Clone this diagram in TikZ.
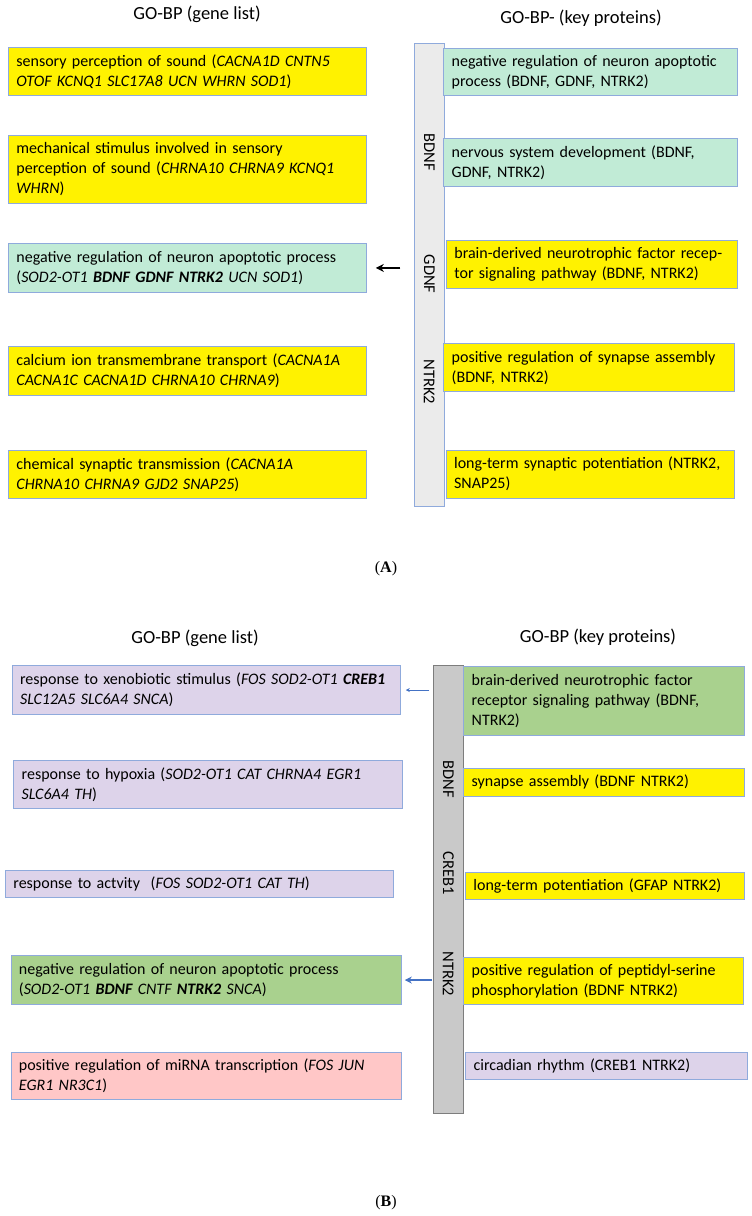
\documentclass[tikz,border=0pt]{standalone}
\usepackage{fontspec}
\setmainfont{Carlito}
\newfontfamily\capfont{Liberation Serif}
\usetikzlibrary{positioning,arrows.meta}

\definecolor{boxline}{RGB}{143,170,220}
\definecolor{barlight}{RGB}{235,235,235}
\definecolor{bardark}{RGB}{201,201,201}
\definecolor{barline}{RGB}{125,125,125}
\definecolor{mint}{RGB}{193,235,214}
\definecolor{lav}{RGB}{221,211,234}
\definecolor{leaf}{RGB}{169,209,142}
\definecolor{rose}{RGB}{255,199,199}
\definecolor{arrowblue}{RGB}{68,114,196}

\newcommand{\boxfont}{\fontsize{16}{20}\selectfont}

\begin{document}
\begin{tikzpicture}[x=1pt, y=-1pt,
    gobox/.style={draw=boxline, line width=0.8pt, anchor=north west, inner xsep=8pt, inner ysep=0pt, align=left, font=\boxfont},
    barbox/.style={line width=0.8pt, anchor=north west, minimum width=30pt, inner sep=0pt},
    barlabel/.style={rotate=-90, font=\fontsize{16.5}{18}\selectfont},
    heading/.style={font=\fontsize{18.5}{22}\selectfont},
    panel/.style={font=\capfont\fontsize{16}{18}\selectfont}]
    \useasboundingbox (0,0) rectangle (752,1216);

    % panel A
    \node[heading] (headAl) at (197,14) {GO-BP (gene list)};
    \node[heading] (headAr) at (581,18) {GO-BP- (key proteins)};

    \node[gobox, fill=yellow, text width=342pt, minimum height=48pt] (lA1) at (8,47)
        {sensory perception of sound (\textit{CACNA1D CNTN5}\\\textit{OTOF KCNQ1 SLC17A8 UCN WHRN SOD1})};
    \node[gobox, fill=yellow, text width=342pt, minimum height=68pt] (lA2) at (8,135)
        {mechanical stimulus involved in sensory\\perception of sound (\textit{CHRNA10 CHRNA9 KCNQ1}\\\textit{WHRN})};
    \node[gobox, fill=mint, text width=342pt, minimum height=49pt] (lA3) at (8,243)
        {negative regulation of neuron apoptotic process\\(\textit{SOD2-OT1 \textbf{BDNF GDNF NTRK2} UCN SOD1})};
    \node[gobox, fill=yellow, text width=342pt, minimum height=49pt] (lA4) at (8,346)
        {calcium ion transmembrane transport (\textit{CACNA1A}\\\textit{CACNA1C CACNA1D CHRNA10 CHRNA9})};
    \node[gobox, fill=yellow, text width=342pt, minimum height=48pt] (lA5) at (8,450)
        {chemical synaptic transmission (\textit{CACNA1A}\\\textit{CHRNA10 CHRNA9 GJD2 SNAP25})};

    \node[barbox, fill=barlight, draw=boxline, minimum height=462.7pt] (barA) at (414.3,43.3) {};
    \node[barlabel] (bdnfA) at (429.3,152) {BDNF};
    \node[barlabel] (gdnfA) at (429.3,274) {GDNF};
    \node[barlabel] (ntrkA) at (429.3,382) {NTRK2};

    \node[gobox, fill=mint, text width=278pt, minimum height=47.3pt] (rA1) at (443.3,47.7)
        {negative regulation of neuron apoptotic\\process (BDNF, GDNF, NTRK2)};
    \node[gobox, fill=mint, text width=278pt, minimum height=47.7pt] (rA2) at (443.3,138.3)
        {nervous system development (BDNF,\\GDNF, NTRK2)};
    \node[gobox, fill=yellow, text width=275.3pt, minimum height=48.3pt] (rA3) at (446,240)
        {brain-derived neurotrophic factor recep-\\tor signaling pathway (BDNF, NTRK2)};
    \node[gobox, fill=yellow, text width=275pt, minimum height=47.7pt] (rA4) at (443.3,343.3)
        {positive regulation of synapse assembly\\(BDNF, NTRK2)};
    \node[gobox, fill=yellow, text width=272.3pt, minimum height=47.7pt] (rA5) at (445.7,450)
        {long-term synaptic potentiation (NTRK2,\\SNAP25)};

    \draw[-{Stealth[length=8pt,width=8pt]}, line width=2pt, shorten <=14pt, shorten >=9pt]
        (lA3.east -| barA.west) -- (lA3.east);

    \node[panel] (capA) at (386,569) {(\textbf{A})};

    % panel B
    \node[heading] (headBl) at (195,638) {GO-BP (gene list)};
    \node[heading] (headBr) at (598,637) {GO-BP (key proteins)};

    \node[gobox, fill=lav, text width=372.3pt, minimum height=49.3pt] (lB1) at (11.7,665)
        {response to xenobiotic stimulus (\textit{FOS SOD2-OT1 \textbf{CREB1}}\\\textit{SLC12A5 SLC6A4 SNCA})};
    \node[gobox, fill=lav, text width=372.3pt, minimum height=48.3pt] (lB2) at (13.3,760)
        {response to hypoxia (\textit{SOD2-OT1 CAT CHRNA4 EGR1}\\\textit{SLC6A4 TH})};
    \node[gobox, fill=lav, text width=372.3pt, minimum height=27.3pt] (lB3) at (5,870)
        {response to actvity\ \ (\textit{FOS SOD2-OT1 CAT TH})};
    \node[gobox, fill=leaf, text width=374.5pt, minimum height=49.3pt] (lB4) at (10.5,955)
        {negative regulation of neuron apoptotic process\\(\textit{SOD2-OT1 \textbf{BDNF} CNTF \textbf{NTRK2} SNCA})};
    \node[gobox, fill=rose, text width=374.5pt, minimum height=47.6pt] (lB5) at (10.5,1051.7)
        {positive regulation of miRNA transcription (\textit{FOS JUN}\\\textit{EGR1 NR3C1})};

    \node[barbox, fill=bardark, draw=barline, minimum height=447.7pt] (barB) at (433.3,665) {};
    \node[barlabel] (bdnfB) at (448.3,779) {BDNF};
    \node[barlabel] (crebB) at (448.3,873) {CREB1};
    \node[barlabel] (ntrkB) at (448.3,974) {NTRK2};

    \node[gobox, fill=leaf, text width=265pt, minimum height=69pt] (rB1) at (463.3,666)
        {brain-derived neurotrophic factor\\receptor signaling pathway (BDNF,\\NTRK2)};
    \node[gobox, fill=yellow, text width=265pt, minimum height=28.3pt] (rB2) at (463.3,767.7)
        {synapse assembly (BDNF NTRK2)};
    \node[gobox, fill=yellow, text width=263pt, minimum height=27.3pt] (rB3) at (465,871.7)
        {long-term potentiation (GFAP NTRK2)};
    \node[gobox, fill=yellow, text width=264pt, minimum height=47.6pt] (rB4) at (463.3,956.7)
        {positive regulation of peptidyl-serine\\phosphorylation (BDNF NTRK2)};
    \node[gobox, fill=lav, text width=265.6pt, minimum height=27.6pt] (rB5) at (465.2,1051.7)
        {circadian rhythm (CREB1 NTRK2)};

    \draw[-{Stealth[length=4pt,width=4pt]}, arrowblue, line width=0.7pt, shorten <=4pt, shorten >=5pt]
        (lB1.east -| barB.west) -- (lB1.east);
    \draw[-{Stealth[length=7pt,width=7pt]}, arrowblue, line width=2.2pt, shorten <=1pt, shorten >=3pt]
        (lB4.east -| barB.west) -- (lB4.east);

    \node[panel] (capB) at (386,1203) {(\textbf{B})};
\end{tikzpicture}
\end{document}
